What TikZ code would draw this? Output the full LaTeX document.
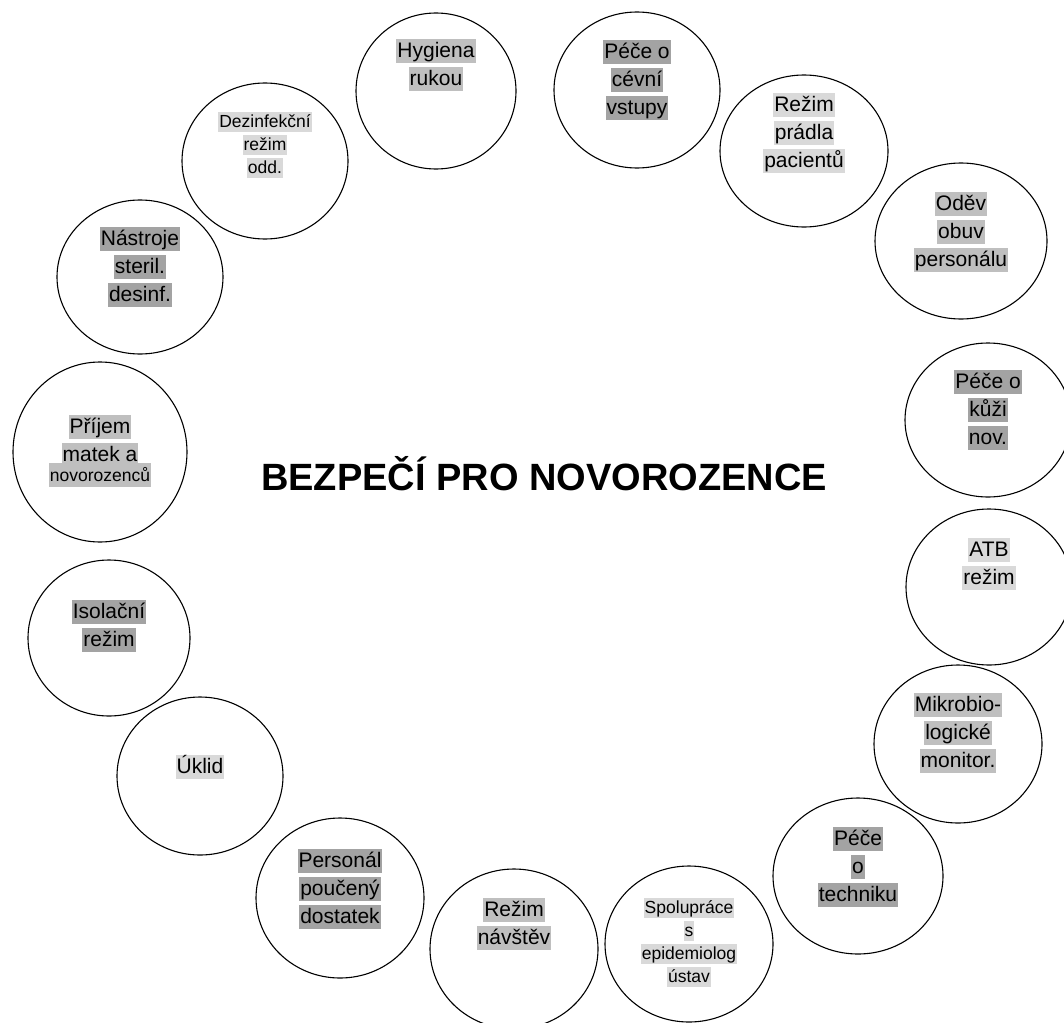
\documentclass[tikz,border=0pt]{standalone}
\usepackage{fontspec}
\setmainfont{Liberation Sans}
\usetikzlibrary{shapes.geometric,positioning}
\definecolor{hllight}{gray}{0.85}
\definecolor{hlmid}{gray}{0.75}
\definecolor{hldark}{gray}{0.64}
\newcommand{\hl}[2][hlmid]{{\setlength{\fboxsep}{1pt}\colorbox{#1}{\vphantom{Ýg}#2}}}
\tikzset{
  ring/.style={ellipse,draw,line width=1.1pt,inner sep=0pt},
  lbl/.style={align=center,inner sep=0pt,font=\fontsize{21}{28}\selectfont},
  lblsmall/.style={lbl,font=\fontsize{17.5}{23}\selectfont}
}
\begin{document}
\begin{tikzpicture}[x=1pt,y=1pt,line cap=round,line join=round]
  \fill[white] (0,0) rectangle (1064,-1022);
  \useasboundingbox (0,0) rectangle (1064,-1022);
  % ring of circles
  \node[ring,minimum width=160pt,minimum height=156pt] (hyg) at (436,-91) {};
  \node[ring,minimum width=166pt,minimum height=156pt] (cev) at (637,-90) {};
  \node[ring,minimum width=168pt,minimum height=152pt] (pra) at (804,-151) {};
  \node[ring,minimum width=172pt,minimum height=156pt] (odev) at (961,-241) {};
  \node[ring,minimum width=166pt,minimum height=154pt] (kuz) at (988,-420) {};
  \node[ring,minimum width=166pt,minimum height=156pt] (atb) at (989,-587) {};
  \node[ring,minimum width=168pt,minimum height=158pt] (mik) at (958,-744) {};
  \node[ring,minimum width=170pt,minimum height=156pt] (tech) at (858,-876) {};
  \node[ring,minimum width=168pt,minimum height=156pt] (spol) at (689,-944) {};
  \node[ring,minimum width=168pt,minimum height=160pt] (nav) at (514,-949) {};
  \node[ring,minimum width=168pt,minimum height=160pt] (pers) at (340,-898) {};
  \node[ring,minimum width=166pt,minimum height=158pt] (ukl) at (200,-776) {};
  \node[ring,minimum width=162pt,minimum height=156pt] (iso) at (109,-638) {};
  \node[ring,minimum width=174pt,minimum height=180pt] (pri) at (100,-452) {};
  \node[ring,minimum width=166pt,minimum height=154pt] (nas) at (140,-277) {};
  \node[ring,minimum width=166pt,minimum height=156pt] (dez) at (265,-161) {};
  % labels
  \node[lbl,below=26pt of hyg.north] (hygT) {\hl{Hygiena}\\\hl{rukou}};
  \node[lbl,below=28pt of cev.north] (cevT) {\hl[hldark]{Péče o}\\\hl[hldark]{cévní}\\\hl[hldark]{vstupy}};
  \node[lbl,below=18pt of pra.north] (praT) {\hl[hllight]{Režim}\\\hl[hllight]{prádla}\\\hl[hllight]{pacientů}};
  \node[lbl,below=29pt of odev.north] (odevT) {\hl{Oděv}\\\hl{obuv}\\\hl{personálu}};
  \node[lbl,below=27pt of kuz.north] (kuzT) {\hl[hldark]{Péče o}\\\hl[hldark]{kůži}\\\hl[hldark]{nov.}};
  \node[lbl,below=29pt of atb.north] (atbT) {\hl[hllight]{ATB}\\\hl[hllight]{režim}};
  \node[lbl,below=28pt of mik.north] (mikT) {\hl{Mikrobio-}\\\hl{logické}\\\hl{monitor.}};
  \node[lbl,below=29pt of tech.north] (techT) {\hl[hldark]{Péče}\\\hl[hldark]{o}\\\hl[hldark]{techniku}};
  \node[lblsmall,below=32pt of spol.north] (spolT) {\hl[hllight]{Spolupráce}\\\hl[hllight]{s}\\\hl[hllight]{epidemiolog}\\\hl[hllight]{ústav}};
  \node[lbl,below=29pt of nav.north] (navT) {\hl{Režim}\\\hl{návštěv}};
  \node[lbl,below=31pt of pers.north] (persT) {\hl[hldark]{Personál}\\\hl[hldark]{poučený}\\\hl[hldark]{dostatek}};
  \node[lbl,below=58pt of ukl.north] (uklT) {\hl[hllight]{Úklid}};
  \node[lbl,below=40pt of iso.north] (isoT) {\hl[hldark]{Isolační}\\\hl[hldark]{režim}};
  \node[lbl,below=53pt of pri.north] (priT) {\hl{Příjem}\\\hl{matek a}\\[-8pt]\hl{\fontsize{17.5}{23}\selectfont novorozenců}};
  \node[lbl,below=27pt of nas.north] (nasT) {\hl[hldark]{Nástroje}\\\hl[hldark]{steril.}\\\hl[hldark]{desinf.}};
  \node[lblsmall,below=29pt of dez.north] (dezT) {\hl[hllight]{Dezinfekční}\\\hl[hllight]{režim}\\\hl[hllight]{odd.}};
  % title
  \node[anchor=base,font=\bfseries\fontsize{38}{40}\selectfont] (title) at (544,-490) {BEZPEČÍ PRO NOVOROZENCE};
\end{tikzpicture}
\end{document}
